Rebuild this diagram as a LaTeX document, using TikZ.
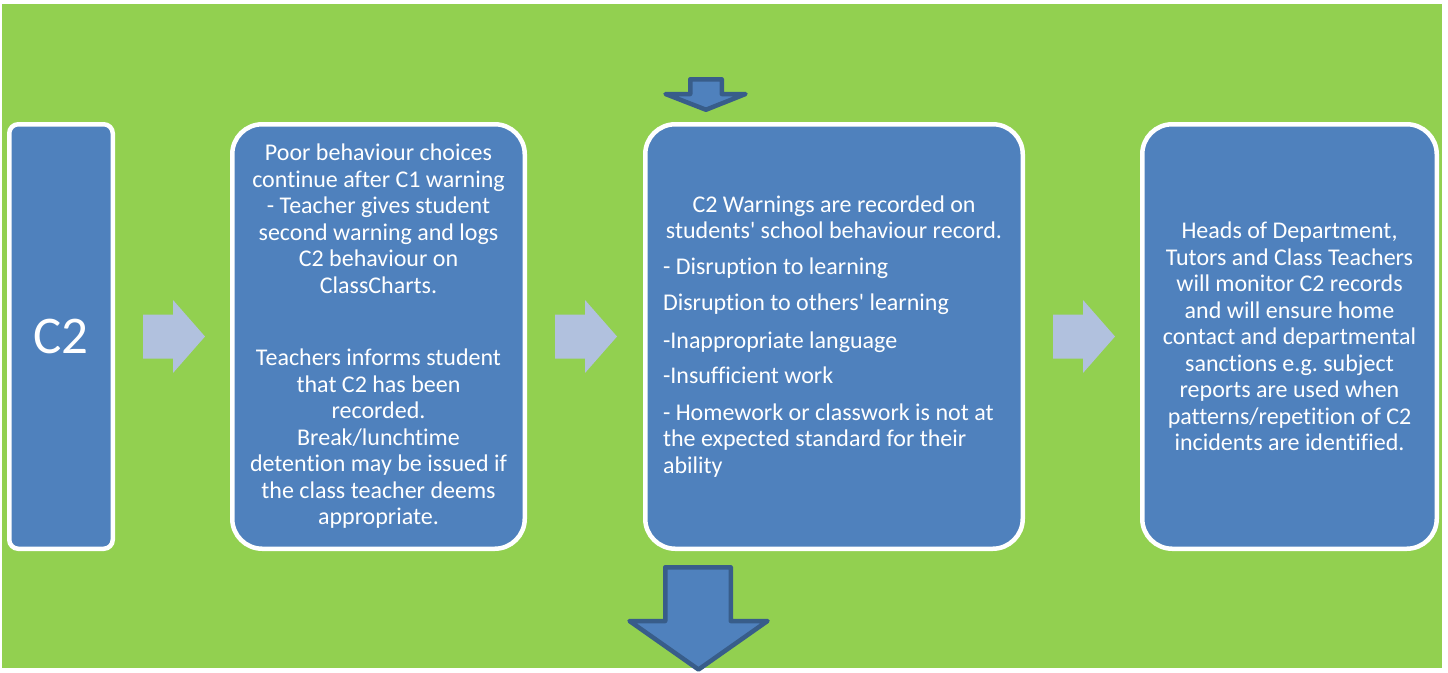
\documentclass[tikz,border=0pt]{standalone}
\usepackage{fontspec}
\setmainfont{Carlito}[Ligatures={TeX,NoCommon}]
\usetikzlibrary{positioning, calc}
\frenchspacing
\definecolor{bggreen}{RGB}{146, 208, 80}
\definecolor{boxblue}{RGB}{79, 129, 189}
\definecolor{darkblue}{RGB}{56, 93, 138}
\definecolor{paleblue}{RGB}{177, 193, 222}
\tikzset{
  stagebox/.style={draw=white, line width=4.5pt, fill=boxblue, text=white, rounded corners=30pt,
    minimum height=424.5pt, inner sep=0pt, outer sep=2.25pt, align=center,
    font=\fontsize{24}{26.5}\selectfont},
  nextarrow/.style={fill=paleblue, draw=none},
  downarrow/.style={fill=boxblue, draw=darkblue, line width=4.5pt, line join=round}
}

\begin{document}
\begin{tikzpicture}[x=1pt, y=-1pt]
    \useasboundingbox (0,0) rectangle (1448,672);
    \clip (0,0) rectangle (1448,672);
    \fill[white] (0,0) rectangle (1448,672);
    \fill[bggreen] (2,4) rectangle (1442,668);

    \node (c2box) [stagebox, rounded corners=9pt, minimum width=103.5pt, font=\fontsize{53}{60}\selectfont] at (61,336.5) {C2};
    \node (warnbox) [stagebox, minimum width=292.5pt, right=115pt of c2box] {Poor behaviour choices\\continue after C1 warning\\- Teacher gives student\\second warning and logs\\C2 behaviour on\\ClassCharts.\\[46pt]Teachers informs student\\that C2 has been\\recorded.\\Break/lunchtime\\detention may be issued if\\the class teacher deems\\appropriate.};
    \node (recordbox) [stagebox, minimum width=377.5pt, align=left, right=116pt of warnbox] {\makebox[342pt][c]{C2 Warnings are recorded on}\\\makebox[342pt][c]{students\textquotesingle{} school behaviour record.}\\[9pt]- Disruption to learning\\[10pt]Disruption to others\textquotesingle{} learning\\[11pt]-Inappropriate language\\[9pt]-Insufficient work\\[10pt]- Homework or classwork is not at\\the expected standard for their\\ability};
    \node (monitorbox) [stagebox, minimum width=294.5pt, right=115pt of recordbox] {Heads of Department,\\Tutors and Class Teachers\\will monitor C2 records\\and will ensure home\\contact and departmental\\sanctions e.g. subject\\reports are used when\\patterns/repetition of C2\\incidents are identified.};

    % arrows between the stages
    \foreach \from in {c2box, warnbox, recordbox}
        \fill[nextarrow] ($(\from.east)+(28,-22)$) -- ++(30,0) -- ++(0,-14.5) -- ++(32,36.5) -- ++(-32,36.5) -- ++(0,-14.5) -- ++(-30,0) -- cycle;

    % arrows in from above and out below
    \draw[downarrow] (690.25,79.25) -- (721.75,79.25) -- (721.75,94) -- (745.5,94) -- (706,109.75) -- (665.5,94) -- (690.25,94) -- cycle;
    \draw[downarrow] (665.25,567.25) -- (730.75,567.25) -- (730.75,621) -- (767.5,621) -- (698.5,669.5) -- (629.5,621) -- (665.25,621) -- cycle;
\end{tikzpicture}
\end{document}
